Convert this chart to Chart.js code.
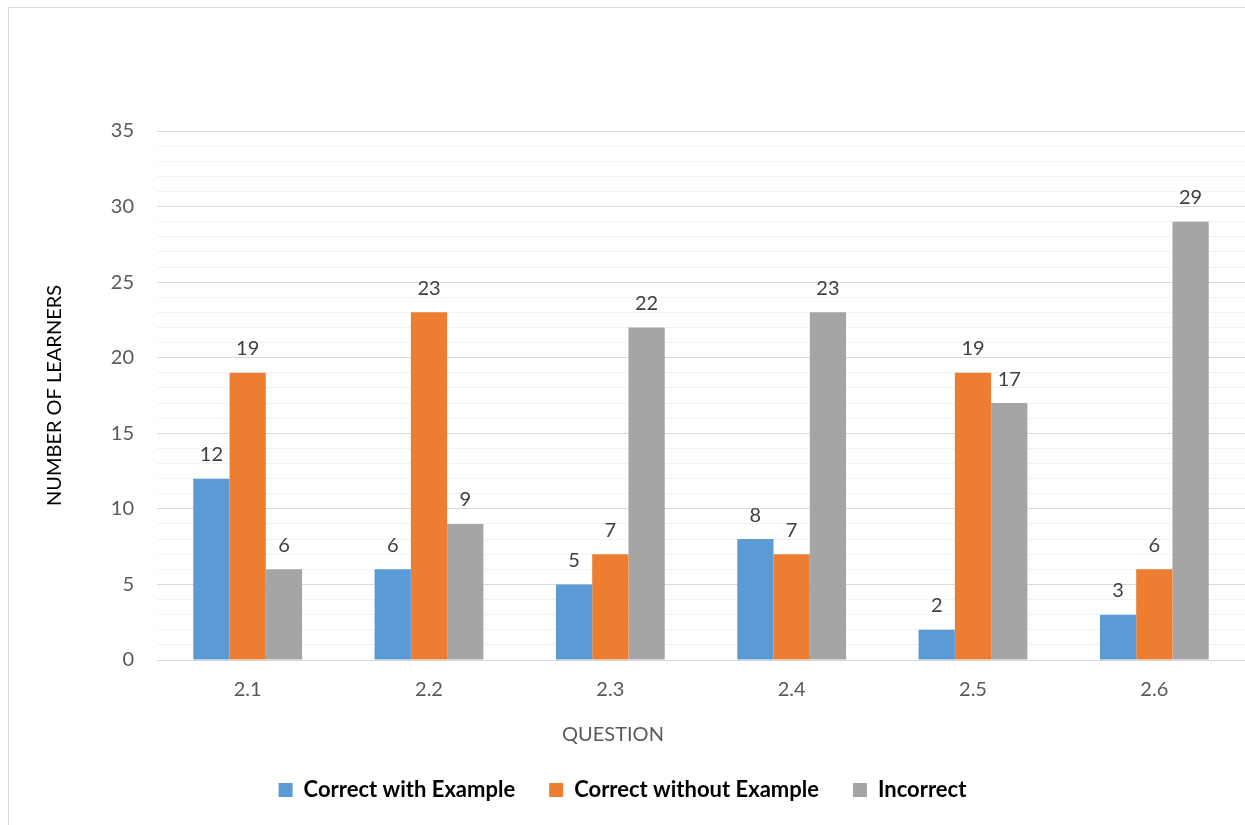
<!DOCTYPE html>
<html>
<head>
<meta charset="utf-8">
<script src="https://cdn.jsdelivr.net/npm/chart.js@4"></script>
<style>
  html, body { margin: 0; padding: 0; background: #fff; overflow: hidden; }
  #wrap { position: relative; width: 1245px; height: 825px; }
  #frame {
    position: absolute; left: 8px; top: 7px; width: 1300px; height: 900px;
    border-left: 1px solid #d9d9d9; border-top: 1px solid #d9d9d9;
    pointer-events: none;
  }
</style>
</head>
<body>
<div id="wrap">
  <canvas id="chart" width="1245" height="825"></canvas>
  <div id="frame"></div>
</div>
<script>
"use strict";

const QUESTIONS = ["2.1", "2.2", "2.3", "2.4", "2.5", "2.6"];
const WITH_EXAMPLE = [12, 6, 5, 8, 2, 3];
const WITHOUT_EXAMPLE = [19, 23, 7, 7, 19, 6];
const INCORRECT = [6, 9, 22, 23, 17, 29];

const FONT = "Lato, 'Open Sans', sans-serif";
const AXIS_TEXT = "#595959";

// value labels above each bar, plus the x title (sits left of centre in the original)
const valueLabels = {
  id: "valueLabels",
  afterDatasetsDraw(chart) {
    const ctx = chart.ctx;
    ctx.save();
    ctx.font = `20px ${FONT}`;
    ctx.fillStyle = "#404040";
    ctx.textAlign = "center";
    ctx.textBaseline = "middle";
    chart.data.datasets.forEach((ds, i) => {
      chart.getDatasetMeta(i).data.forEach((bar, j) => {
        ctx.fillText(String(ds.data[j]), bar.x, bar.y - 24);
      });
    });
    ctx.fillStyle = AXIS_TEXT;
    ctx.fillText("QUESTION", 613, 735);
    ctx.restore();
  },
};

new Chart(document.getElementById("chart"), {
  type: "bar",
  data: {
    labels: QUESTIONS,
    datasets: [
      { label: "Correct with Example", data: WITH_EXAMPLE, backgroundColor: "#5b9bd5" },
      { label: "Correct without Example", data: WITHOUT_EXAMPLE, backgroundColor: "#ed7d31" },
      { label: "Incorrect", data: INCORRECT, backgroundColor: "#a5a5a5" },
    ],
  },
  options: {
    responsive: false,
    animation: false,
    layout: { padding: { top: 131, right: 0, bottom: 14, left: 0 } },
    datasets: { bar: { categoryPercentage: 0.6, barPercentage: 1.0, borderWidth: 0 } },
    plugins: {
      legend: {
        position: "bottom",
        labels: {
          boxWidth: 14,
          boxHeight: 14,
          padding: 34,
          color: "#000",
          font: { family: FONT, size: 22, weight: "bold" },
        },
      },
      tooltip: { enabled: false },
    },
    scales: {
      x: {
        grid: { display: false, drawTicks: false },
        border: { display: true, color: "#d9d9d9", width: 1 },
        ticks: { color: AXIS_TEXT, padding: 18, font: { family: FONT, size: 20 } },
        afterFit: (scale) => { scale.height = 85; },
      },
      y: {
        min: 0,
        max: 35,
        border: { display: false },
        grid: {
          drawTicks: false,
          color: (c) => (c.tick && c.tick.value % 5 === 0 ? "#d9d9d9" : "#f2f2f2"),
          lineWidth: 1,
        },
        ticks: {
          stepSize: 1,
          autoSkip: false,
          padding: 23,
          color: AXIS_TEXT,
          font: { family: FONT, size: 20 },
          callback: (v) => (v % 5 === 0 ? String(v) : ""),
        },
        title: {
          display: true,
          text: "NUMBER OF LEARNERS",
          color: "#000",
          font: { family: FONT, size: 20 },
          padding: { top: 43, bottom: 0 },
        },
        afterFit: (scale) => { scale.width = 157; },
      },
    },
  },
  plugins: [valueLabels],
});
</script>
</body>
</html>
